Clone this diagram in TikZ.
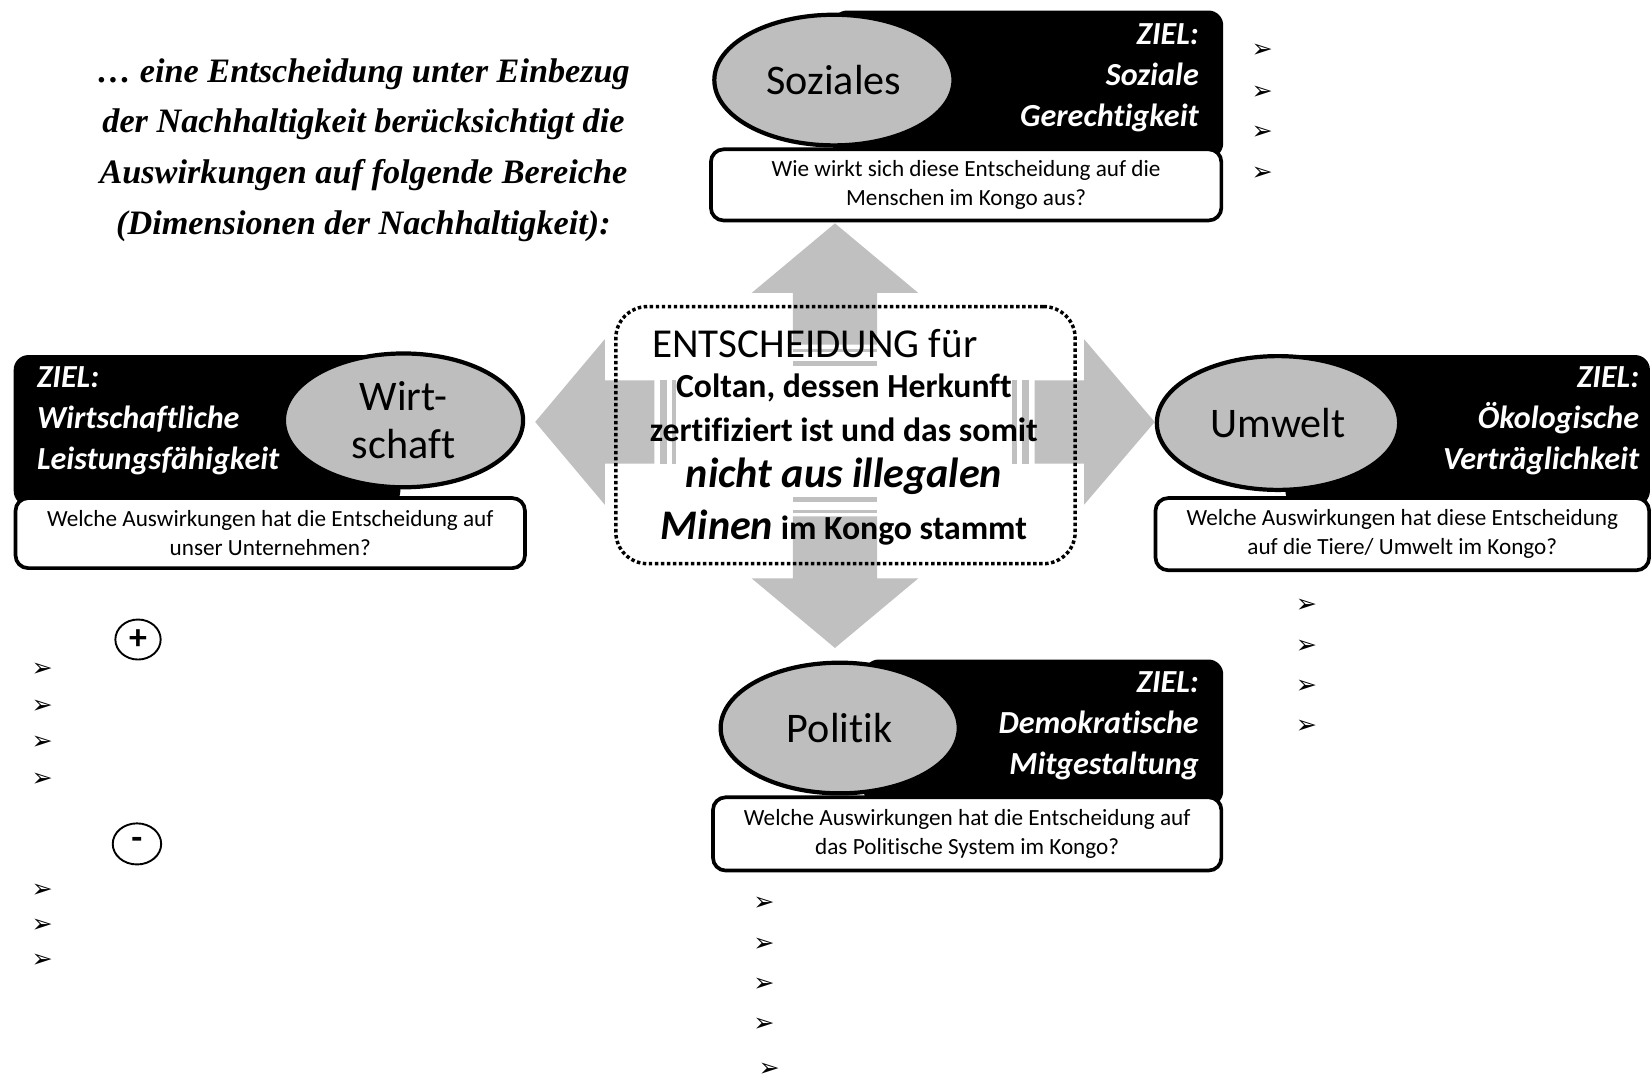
\documentclass[tikz,border=0pt]{standalone}
\usepackage{fontspec}
\setmainfont{Carlito}[Ligatures=NoCommon]
\newfontfamily\titlefont{Liberation Serif}
\newfontfamily\symfont{DejaVu Sans}
\usetikzlibrary{shapes.geometric}
\definecolor{crossgray}{RGB}{192,192,192}
\definecolor{ellgray}{RGB}{190,190,190}
\begin{document}
\begin{tikzpicture}[x=1pt,y=-1pt,
  blackbox/.style={fill=black, draw=none, rounded corners=14pt, inner sep=0pt},
  ellbox/.style={ellipse, draw=black, line width=4pt, fill=ellgray, inner sep=0pt,
     font=\fontsize{40}{46}\selectfont, align=center},
  qbox/.style={draw=black, line width=3.5pt, fill=white, rounded corners=12pt, inner sep=0pt,
     font=\fontsize{22}{27}\selectfont, align=center},
  ziel/.style={text=white, inner sep=0pt, font=\fontsize{30.5}{39}\selectfont\bfseries\itshape},
  bul/.style={inner sep=0pt, font=\symfont\fontsize{24}{24}\selectfont},
  sign/.style={ellipse, draw=black, line width=1.8pt, inner sep=0pt, font=\fontsize{34}{34}\selectfont\bfseries},
  crossarm/.style={fill=crossgray, draw=none},
  ctext/.style={inner sep=0pt}
]
\useasboundingbox (0,0) rectangle (1568,1027);
\fill[white] (0,0) rectangle (1568,1027);

% title
\node[font=\titlefont\fontsize{32.5}{48.3}\selectfont\bfseries\itshape, align=center, inner sep=0pt] (title) at (345,142.5)
 {… eine Entscheidung unter Einbezug\\der Nachhaltigkeit berücksichtigt die\\Auswirkungen auf folgende Bereiche\\(Dimensionen der Nachhaltigkeit):};

% central cross
\fill[crossarm] (752.5,327) -- (752.5,278) -- (713.5,278) -- (792.5,212) -- (871.5,278) -- (832.5,278) -- (832.5,327) -- cycle;
\fill[crossarm] (752.5,331) rectangle (832.5,334);
\fill[crossarm] (752.5,343) rectangle (832.5,347);
\fill[crossarm] (752.5,490) -- (752.5,549) -- (713.5,549) -- (792.5,615) -- (871.5,549) -- (832.5,549) -- (832.5,490) -- cycle;
\fill[crossarm] (752.5,484) rectangle (832.5,487);
\fill[crossarm] (752.5,472) rectangle (832.5,476);
\fill[crossarm] (621,361) -- (574,361) -- (574,322) -- (508,400.5) -- (574,479) -- (574,440) -- (621,440) -- cycle;
\fill[crossarm] (626,361) rectangle (633,440);
\fill[crossarm] (638,361) rectangle (642,440);
\fill[crossarm] (982,361) -- (1029,361) -- (1029,322) -- (1096,400.5) -- (1029,479) -- (1029,440) -- (982,440) -- cycle;
\fill[crossarm] (970,361) rectangle (977,440);
\fill[crossarm] (961,361) rectangle (965,440);

\node[draw=black, line width=3.3pt, dash pattern=on 3.3pt off 2.4pt, rounded corners=30pt,
  minimum width=436pt, minimum height=244pt, inner sep=0pt] (center) at (802.5,413) {};
\node[ctext, anchor=west, font=\fontsize{39}{39}\selectfont] (c1) at (619,326) {ENTSCHEIDUNG für};
\node[ctext, font=\fontsize{32}{32}\selectfont\bfseries] (c2) at (801,368) {Coltan, dessen Herkunft};
\node[ctext, font=\fontsize{32}{32}\selectfont\bfseries] (c3) at (801,408) {zertifiziert ist und das somit};
\node[ctext, font=\fontsize{40}{40}\selectfont\bfseries\itshape] (c4) at (801,452) {nicht aus illegalen};
\node[ctext, anchor=base, font=\fontsize{32}{32}\selectfont\bfseries] (c5) at (801,512)
  {{\fontsize{40}{40}\selectfont\itshape Minen} im Kongo stammt};

% Soziales
\node[blackbox, minimum width=371pt, minimum height=140pt] (sozB) at (975.5,80) {};
\node[ellbox, minimum width=227pt, minimum height=124pt] (soz) at (791.5,76) {Soziales};
\node[ziel, anchor=east, align=right] (sozZ) at (1138,74) {ZIEL:\\Soziale\\Gerechtigkeit};
\node[qbox, minimum width=484.5pt, minimum height=67.5pt] (sozQ) at (917,175.5)
  {Wie wirkt sich diese Entscheidung auf die\\Menschen im Kongo aus?};

% Wirtschaft
\node[blackbox, minimum width=367pt, minimum height=143pt] (wirB) at (196.5,408.5) {};
\node[ellbox, minimum width=227pt, minimum height=127pt] (wir) at (383,399) {Wirt-\\schaft};
\node[ziel, anchor=west, align=left] (wirZ) at (35,399) {ZIEL:\\Wirtschaftliche\\Leistungsfähigkeit};
\node[qbox, minimum width=483.5pt, minimum height=66.5pt] (wirQ) at (256.5,506)
  {Welche Auswirkungen hat die Entscheidung auf\\unser Unternehmen?};

% Umwelt
\node[blackbox, minimum width=346pt, minimum height=143pt] (umwB) at (1393,408.5) {};
\node[ellbox, minimum width=230pt, minimum height=127pt] (umw) at (1213,401.5) {Umwelt};
\node[ziel, anchor=east, align=right] (umwZ) at (1556,399) {ZIEL:\\Ökologische\\Verträglichkeit};
\node[qbox, minimum width=468.5pt, minimum height=68.5pt] (umwQ) at (1331,507)
  {Welche Auswirkungen hat diese Entscheidung\\auf die Tiere/ Umwelt im Kongo?};

% Politik
\node[blackbox, minimum width=341pt, minimum height=139pt] (polB) at (990.5,695.5) {};
\node[ellbox, minimum width=226pt, minimum height=124pt] (pol) at (797,691) {Politik};
\node[ziel, anchor=east, align=right] (polZ) at (1138,689) {ZIEL:\\Demokratische\\Mitgestaltung};
\node[qbox, minimum width=482.5pt, minimum height=69.5pt] (polQ) at (918,791.5)
  {Welche Auswirkungen hat die Entscheidung auf\\das Politische System im Kongo?};

% bullets
\foreach \y [count=\i] in {48,88,126,165} \node[bul] (bs\i) at (1198,\y) {➢};
\foreach \y [count=\i] in {575,614,652,690} \node[bul] (bu\i) at (1240,\y) {➢};
\foreach \y [count=\i] in {858,897,935,973} \node[bul] (bp\i) at (725,\y) {➢};
\node[bul] (bp5) at (730,1015) {➢};
\foreach \y [count=\i] in {636,671,705,740} \node[bul] (bw\i) at (40,\y) {➢};
\foreach \y [count=\i] in {845,879,912} \node[bul] (bm\i) at (40,\y) {➢};

\node[sign, minimum width=43pt, minimum height=38pt] (plus) at (131,607) {+};
\node[sign, minimum width=46pt, minimum height=39pt] (minus) at (130,801) {-};
\end{tikzpicture}
\end{document}
